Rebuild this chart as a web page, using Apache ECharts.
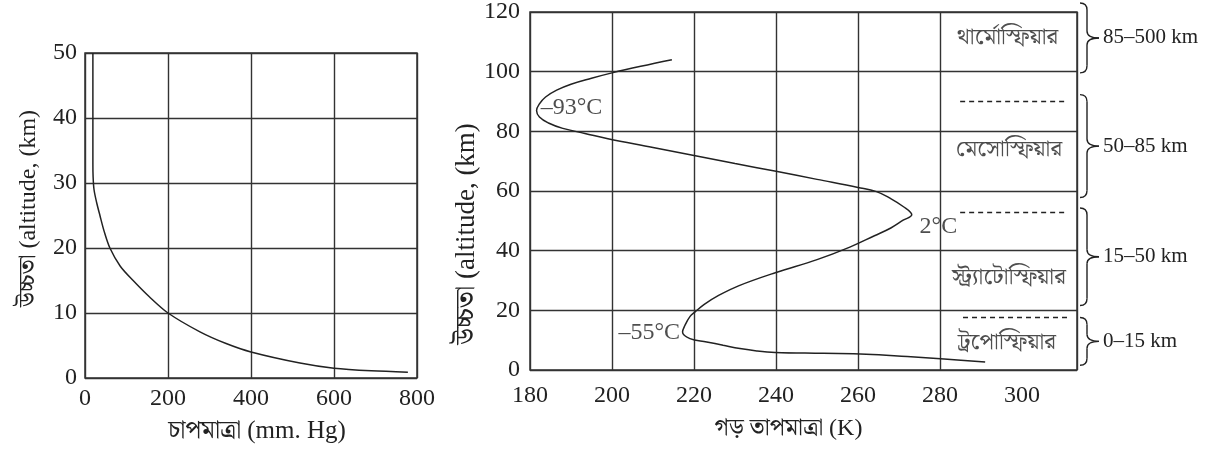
<!DOCTYPE html>
<html><head><meta charset="utf-8">
<script src="https://cdn.jsdelivr.net/npm/echarts@6/dist/echarts.min.js"></script>
<style>html,body{margin:0;padding:0;background:#fff}#c{width:1211px;height:450px}</style>
</head><body><div id="c"></div>
<script>
// ---- data ----
const pressureTicks = [0, 200, 400, 600, 800];
const leftAltTicks = [0, 10, 20, 30, 40, 50];
const pressure    = [19, 19, 19, 19.5, 21.7, 28, 36, 46, 60, 85, 116, 155, 200, 277, 340, 400, 518, 600, 690, 778];
const pressureAlt = [50, 40, 33, 31, 29, 27, 25, 22.6, 20, 17.2, 15, 12.5, 10, 7.1, 5.3, 4, 2.3, 1.5, 1.1, 0.9];

const tempTicks = [180, 200, 220, 240, 260, 280, 300];
const rightAltTicks = [0, 20, 40, 60, 80, 100, 120];
const tempK   = [291, 281, 272, 262, 251.5, 239.8, 235.3, 231.2, 227.1, 223.1, 219, 217.2, 217.8, 219, 220.2, 222.5, 226, 231, 240, 250, 258, 264, 268, 271, 273.1, 271, 267.8, 264.5, 260, 250, 240, 230, 220, 210, 199, 193.4, 188, 184.5, 182.3, 181.6, 182.3, 183.8, 186.5, 190, 195, 200, 207, 214.6];
const tempAlt = [2.7, 3.7, 4.5, 5.3, 5.6, 5.9, 6.4, 7.2, 8.3, 9.4, 10.5, 12.7, 15, 17.9, 19.4, 22, 25, 28.3, 32.7, 37, 41.2, 45, 47.6, 50.2, 52, 54.8, 57.6, 59.8, 61.2, 63.9, 66.6, 69.2, 71.9, 74.6, 77.5, 79.3, 81, 82.8, 84.8, 87, 89.2, 91.5, 93.8, 95.8, 97.8, 99.6, 101.8, 104];

const tempNotes = ['–93°C', '2°C', '–55°C'];
const noteK     = [182.6, 275, 216.6];
const noteAlt   = [88, 48, 12.6];

const layerNames    = ['থার্মোস্ফিয়ার', 'মেসোস্ফিয়ার', 'স্ট্র্যাটোস্ফিয়ার', 'ট্রপোস্ফিয়ার'];
const layerLabelK   = [296.5, 296.8, 296.8, 296.3];
const layerLabelAlt = [111.3, 73.8, 30.9, 9];
const layerRanges   = ['85–500 km', '50–85 km', '15–50 km', '0–15 km'];
const braceTop      = [123, 92.3, 54.3, 17.6];
const braceBottom   = [99.6, 57.8, 21.6, 1.6];
const boundaryAlt   = [90, 53, 17.6];
const boundaryFromK = [284.9, 284.9, 285.6];
const boundaryToK   = [311, 311, 311.7];

// ---- chart ----
const serif = '"Liberation Serif", "Noto Serif Bengali", "Noto Sans Bengali", "Lohit Bengali", serif';
const ink = '#222';
const chart = echarts.init(document.getElementById('c'), null, {renderer: 'canvas'});

const xMaxRight = 313.4;
const gridColors = tempTicks.map(t => (t === 300 ? 'rgba(0,0,0,0)' : '#333'));
gridColors.push('#333');

const axisLabelStyle = {color: ink, fontFamily: serif, fontSize: 24};

const option = {
  backgroundColor: '#fff',
  animation: false,
  grid: [
    {left: 85, top: 53, width: 332, height: 325, show: true, borderColor: '#333', borderWidth: 1.5, containLabel: false},
    {left: 530, top: 9, width: 547, height: 361, show: true, borderColor: '#333', borderWidth: 1.5, containLabel: false}
  ],
  xAxis: [
    {gridIndex: 0, type: 'value', min: pressureTicks[0], max: pressureTicks[pressureTicks.length - 1], interval: 200,
     axisLine: {show: false}, axisTick: {show: false},
     splitLine: {show: true, lineStyle: {color: '#333', width: 1.4}},
     axisLabel: Object.assign({margin: 9}, axisLabelStyle),
     name: 'চাপমাত্রা (mm. Hg)', nameLocation: 'middle', nameGap: 41,
     nameTextStyle: {color: ink, fontFamily: serif, fontSize: 25, padding: [0, 0, 0, 12]}},
    {gridIndex: 1, type: 'value', min: tempTicks[0], max: xMaxRight, interval: 20,
     axisLine: {show: false}, axisTick: {show: false},
     splitLine: {show: true, lineStyle: {color: gridColors, width: 1.4}},
     axisLabel: Object.assign({margin: 14, formatter: v => (tempTicks.indexOf(Math.round(v)) >= 0 && Math.abs(v - Math.round(v)) < 1e-6 ? String(Math.round(v)) : '')}, axisLabelStyle),
     name: 'গড় তাপমাত্রা (K)', nameLocation: 'middle', nameGap: 47,
     nameTextStyle: {color: ink, fontFamily: serif, fontSize: 24, padding: [0, 30, 0, 0]}}
  ],
  yAxis: [
    {gridIndex: 0, type: 'value', min: leftAltTicks[0], max: leftAltTicks[leftAltTicks.length - 1], interval: 10,
     axisLine: {show: false}, axisTick: {show: false},
     splitLine: {show: true, lineStyle: {color: '#333', width: 1.4}},
     axisLabel: Object.assign({margin: 8}, axisLabelStyle),
     name: 'উচ্চতা (altitude, (km)', nameLocation: 'middle', nameGap: 44,
     nameTextStyle: {color: ink, fontFamily: serif, fontSize: 24, padding: [0, 0, 0, 14]}},
    {gridIndex: 1, type: 'value', min: rightAltTicks[0], max: rightAltTicks[rightAltTicks.length - 1], interval: 20,
     axisLine: {show: false}, axisTick: {show: false},
     splitLine: {show: true, lineStyle: {color: '#333', width: 1.4}},
     axisLabel: Object.assign({margin: 10}, axisLabelStyle),
     name: 'উচ্চতা (altitude, (km)', nameLocation: 'middle', nameGap: 39,
     nameTextStyle: {color: ink, fontFamily: serif, fontSize: 27, padding: [0, 86, 0, 0]}}
  ],
  series: [
    {type: 'line', xAxisIndex: 0, yAxisIndex: 0, smooth: 0.3, symbol: 'none',
     lineStyle: {color: ink, width: 1.5},
     data: pressure.map((p, i) => [p, pressureAlt[i]])},
    {type: 'line', xAxisIndex: 1, yAxisIndex: 1, smooth: 0.4, symbol: 'none',
     lineStyle: {color: ink, width: 1.5},
     data: tempK.map((k, i) => [k, tempAlt[i]]),
     markLine: {silent: true, symbol: 'none', label: {show: false},
       lineStyle: {color: ink, width: 1.3, type: [5, 4]},
       data: boundaryAlt.map((a, i) => [{coord: [boundaryFromK[i], a]}, {coord: [boundaryToK[i], a]}])}},
    {type: 'scatter', xAxisIndex: 1, yAxisIndex: 1, symbolSize: 0, silent: true,
     data: tempNotes.map((t, i) => ({value: [noteK[i], noteAlt[i]],
       label: {show: true, formatter: t, position: i === 2 ? 'left' : 'right', distance: 0,
         color: ink, fontFamily: serif, fontSize: 24}}))},
    {type: 'scatter', xAxisIndex: 1, yAxisIndex: 1, symbolSize: 0, silent: true,
     data: layerNames.map((t, i) => ({value: [layerLabelK[i], layerLabelAlt[i]],
       label: {show: true, formatter: t, position: 'inside', color: ink, fontFamily: serif, fontSize: 23}}))},
    {type: 'custom', xAxisIndex: 1, yAxisIndex: 1, silent: true, clip: false,
     data: braceTop.map((t, i) => [xMaxRight, t, braceBottom[i]]),
     renderItem: function (params, api) {
       const pTop = api.coord([api.value(0), api.value(1)]);
       const pBot = api.coord([api.value(0), api.value(2)]);
       const x0 = pTop[0] + 3, y0 = pTop[1], y1 = pBot[1], ym = (y0 + y1) / 2;
       const h = 7, w = 19, r = 7;
       const st = {stroke: ink, lineWidth: 1.4, fill: null};
       return {type: 'group', children: [
         {type: 'bezierCurve', shape: {x1: x0, y1: y0, x2: x0 + h, y2: y0 + r, cpx1: x0 + h, cpy1: y0}, style: st},
         {type: 'line', shape: {x1: x0 + h, y1: y0 + r, x2: x0 + h, y2: ym - r}, style: st},
         {type: 'bezierCurve', shape: {x1: x0 + h, y1: ym - r, x2: x0 + w, y2: ym, cpx1: x0 + h, cpy1: ym}, style: st},
         {type: 'bezierCurve', shape: {x1: x0 + w, y1: ym, x2: x0 + h, y2: ym + r, cpx1: x0 + h, cpy1: ym}, style: st},
         {type: 'line', shape: {x1: x0 + h, y1: ym + r, x2: x0 + h, y2: y1 - r}, style: st},
         {type: 'bezierCurve', shape: {x1: x0 + h, y1: y1 - r, x2: x0, y2: y1, cpx1: x0 + h, cpy1: y1}, style: st},
         {type: 'text', style: {text: layerRanges[params.dataIndex], x: x0 + w + 4, y: ym,
           verticalAlign: 'middle', align: 'left', fill: ink, font: '21px ' + serif}}
       ]};
     }}
  ]
};
chart.setOption(option);
</script>
</body></html>
